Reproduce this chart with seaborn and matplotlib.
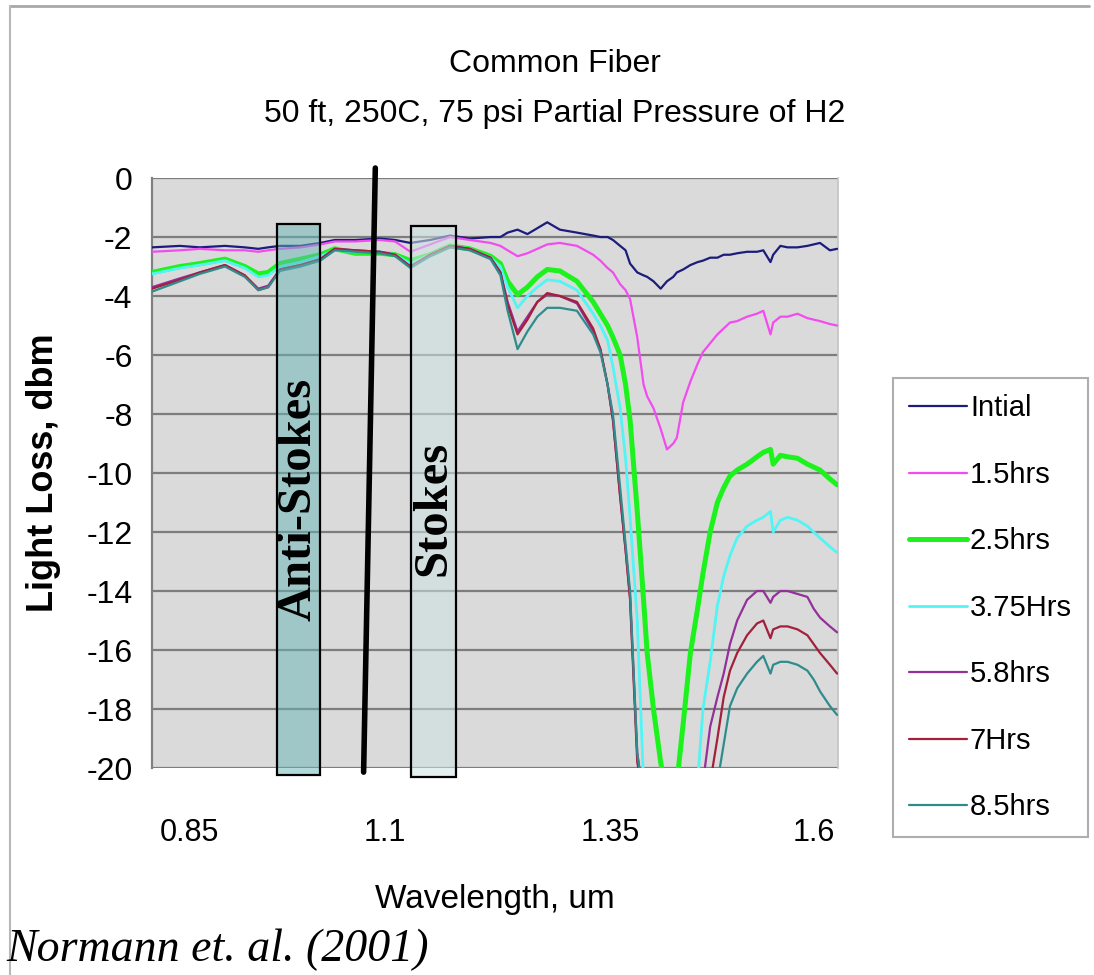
import matplotlib.pyplot as plt
import matplotlib.patches as mpatches
import matplotlib.lines as mlines
import seaborn as sns
import pandas as pd

# wavelength grid (um)
wavelength = [0.841, 0.872, 0.894, 0.922, 0.944, 0.959, 0.970, 0.983, 1.006, 1.028,
              1.044, 1.067, 1.094, 1.111, 1.128, 1.150, 1.172, 1.194, 1.217, 1.228,
              1.236, 1.247, 1.258, 1.269, 1.280, 1.294, 1.313, 1.331, 1.339, 1.347,
              1.353, 1.361, 1.367, 1.372, 1.380, 1.387, 1.391, 1.398, 1.406, 1.413,
              1.420, 1.424, 1.431, 1.439, 1.447, 1.453, 1.461, 1.469, 1.476, 1.483,
              1.491, 1.502, 1.513, 1.520, 1.528, 1.531, 1.539, 1.547, 1.558, 1.569,
              1.576, 1.583, 1.594, 1.602]

initial = [-2.35, -2.3, -2.35, -2.3, -2.35, -2.4, -2.35, -2.3, -2.3, -2.2,
           -2.1, -2.1, -2.05, -2.1, -2.2, -2.1, -1.95, -2.05, -2.0, -2.0,
           -1.85, -1.75, -1.9, -1.7, -1.5, -1.75, -1.85, -1.95, -2.0, -2.0,
           -2.1, -2.3, -2.45, -2.9, -3.2, -3.3, -3.35, -3.5, -3.75, -3.5,
           -3.35, -3.2, -3.1, -2.95, -2.85, -2.8, -2.7, -2.7, -2.6, -2.6,
           -2.55, -2.5, -2.5, -2.45, -2.85, -2.6, -2.3, -2.35, -2.35, -2.3,
           -2.25, -2.2, -2.45, -2.4]

hrs_1_5 = [-2.5, -2.45, -2.4, -2.45, -2.45, -2.5, -2.45, -2.4, -2.35, -2.25,
           -2.15, -2.15, -2.1, -2.15, -2.5, -2.25, -2.0, -2.1, -2.2, -2.3,
           -2.45, -2.65, -2.55, -2.4, -2.25, -2.2, -2.3, -2.6, -2.8, -3.05,
           -3.2, -3.6, -3.8, -4.1, -5.4, -7.0, -7.4, -7.8, -8.5, -9.2,
           -9.0, -8.8, -7.6, -6.9, -6.3, -5.9, -5.6, -5.3, -5.1, -4.9,
           -4.85, -4.7, -4.6, -4.5, -5.3, -4.9, -4.7, -4.7, -4.6, -4.75,
           -4.8, -4.85, -4.95, -5.0]

hrs_2_5 = [-3.2, -3.0, -2.9, -2.75, -3.0, -3.25, -3.2, -2.9, -2.75, -2.6,
           -2.4, -2.55, -2.55, -2.6, -2.8, -2.6, -2.3, -2.4, -2.65, -2.9,
           -3.5, -3.95, -3.7, -3.35, -3.1, -3.15, -3.5, -4.2, -4.6, -5.0,
           -5.4, -6.0, -7.0, -8.2, -11.3, -14.3, -16.1, -18.0, -19.8, -21.0,
           -21.0, -20.5, -18.5, -16.1, -14.6, -13.4, -12.0, -11.0, -10.5, -10.1,
           -9.9, -9.7, -9.45, -9.3, -9.2, -9.7, -9.4, -9.45, -9.5, -9.7,
           -9.8, -9.9, -10.2, -10.4]

hrs_3_75 = [-3.25, -3.05, -2.95, -2.8, -3.05, -3.35, -3.3, -3.0, -2.85, -2.65,
            -2.45, -2.5, -2.5, -2.6, -2.9, -2.6, -2.3, -2.4, -2.7, -3.0,
            -3.7, -4.4, -4.0, -3.7, -3.45, -3.5, -3.8, -4.6, -5.0, -5.5,
            -6.4, -7.8, -9.5, -11.5, -15.0, -20.5, -21.0, -21.0, -21.0, -21.0,
            -21.0, -21.0, -21.0, -21.0, -20.5, -18.0, -16.4, -14.5, -13.5, -12.8,
            -12.2, -11.8, -11.6, -11.5, -11.3, -12.0, -11.6, -11.5, -11.6, -11.8,
            -12.0, -12.2, -12.5, -12.7]

hrs_5_8 = [-3.7, -3.4, -3.2, -2.95, -3.3, -3.75, -3.65, -3.1, -2.95, -2.75,
           -2.4, -2.45, -2.5, -2.6, -3.0, -2.6, -2.3, -2.4, -2.7, -3.2,
           -4.2, -5.2, -4.7, -4.2, -3.95, -4.0, -4.25, -5.2, -5.8, -7.0,
           -8.2, -10.8, -12.6, -14.2, -19.5, -21.0, -21.0, -21.0, -21.0, -21.0,
           -21.0, -21.0, -21.0, -21.0, -21.0, -20.5, -18.6, -17.6, -16.8, -15.8,
           -15.0, -14.3, -14.0, -14.0, -14.4, -14.2, -14.0, -14.0, -14.1, -14.2,
           -14.6, -14.9, -15.2, -15.4]

hrs_7 = [-3.75, -3.45, -3.2, -2.95, -3.3, -3.8, -3.7, -3.1, -2.95, -2.75,
         -2.4, -2.45, -2.5, -2.6, -3.0, -2.6, -2.3, -2.4, -2.7, -3.2,
         -4.3, -5.3, -4.8, -4.2, -3.9, -4.0, -4.2, -5.1, -5.8, -7.0,
         -8.2, -10.8, -12.6, -14.3, -19.8, -21.0, -21.0, -21.0, -21.0, -21.0,
         -21.0, -21.0, -21.0, -21.0, -21.0, -21.0, -20.5, -19.0, -17.6, -16.7,
         -16.1, -15.5, -15.1, -15.0, -15.6, -15.3, -15.2, -15.2, -15.3, -15.5,
         -15.8, -16.1, -16.5, -16.8]

hrs_8_5 = [-3.85, -3.5, -3.25, -3.0, -3.35, -3.8, -3.7, -3.15, -3.0, -2.8,
           -2.45, -2.5, -2.55, -2.65, -3.05, -2.65, -2.35, -2.45, -2.75, -3.3,
           -4.5, -5.8, -5.2, -4.7, -4.4, -4.4, -4.5, -5.3, -5.9, -7.0,
           -8.0, -10.5, -12.4, -14.0, -19.5, -21.0, -21.0, -21.0, -21.0, -21.0,
           -21.0, -21.0, -21.0, -21.0, -21.0, -21.0, -21.0, -20.5, -19.2, -17.9,
           -17.3, -16.8, -16.4, -16.2, -16.8, -16.5, -16.4, -16.4, -16.5, -16.7,
           -17.0, -17.4, -17.9, -18.2]

series_names = ["Intial", "1.5hrs", "2.5hrs", "3.75Hrs", "5.8hrs", "7Hrs", "8.5hrs"]
series_values = [initial, hrs_1_5, hrs_2_5, hrs_3_75, hrs_5_8, hrs_7, hrs_8_5]
series_colors = ["#1c1c7c", "#f24cf0", "#1cf21c", "#52f4f4", "#93309a", "#a3203c", "#2e8c8c"]
series_widths = [1.6, 1.6, 3.6, 2.0, 1.6, 1.6, 1.6]

x_ticks = [0.85, 1.1, 1.35, 1.6]
y_ticks = list(range(0, -21, -2))

rows = []
for name, vals in zip(series_names, series_values):
    for w, v in zip(wavelength, vals):
        rows.append({"wavelength": w, "loss": v, "series": name})
df = pd.DataFrame(rows)

sns.set_theme(style="white")
sans = ["Liberation Sans", "DejaVu Sans"]
serif = ["Liberation Serif", "DejaVu Serif"]
plt.rcParams["font.family"] = sans
for key in ["text.color", "axes.labelcolor", "xtick.color", "ytick.color"]:
    plt.rcParams[key] = "black"

fig = plt.figure(figsize=(10.94, 9.75), dpi=100)
ax = fig.add_axes([0.139, 0.2123, 0.627, 0.6051])
ax.set_facecolor("#dadada")

sns.lineplot(data=df, x="wavelength", y="loss", hue="series",
             hue_order=series_names, palette=series_colors,
             size="series", size_order=series_names, sizes=series_widths,
             sort=False, legend=False, ax=ax, zorder=3)

ax.set_xlim(0.841, 1.603)
ax.set_ylim(-20, 0)
ax.set_yticks(y_ticks)
ax.set_yticklabels([str(t) for t in y_ticks], fontsize=23)
ax.set_xticks(x_ticks)
ax.set_xticklabels([str(t) for t in x_ticks], fontsize=22)
xl = ax.get_xticklabels()
xl[0].set_horizontalalignment("left")
xl[-1].set_horizontalalignment("right")
ax.tick_params(axis="x", length=0, pad=36)
ax.tick_params(axis="y", length=5, width=1.2, color="#7a7a7a", pad=9, direction="out")
ax.yaxis.grid(True, color="#7d7d7d", lw=1.6, zorder=1)
ax.xaxis.grid(False)
for s in ["top", "bottom"]:
    ax.spines[s].set_visible(False)
ax.spines["left"].set_color("#808080")
ax.spines["left"].set_linewidth(1.6)
ax.spines["right"].set_color("#c4c4c4")
ax.spines["right"].set_linewidth(1.2)
ax.set_axisbelow(True)

ax.set_xlabel("Wavelength, um", fontsize=24, labelpad=26)
ax.set_ylabel("Light Loss, dbm", fontsize=26, fontweight="bold", labelpad=18)

# annotation boxes (semi-transparent, curves show through) and the divider line
ax.add_patch(mpatches.Rectangle((0.980, -20.24), 0.048, 18.68,
                                facecolor=(0.40, 0.71, 0.71, 0.5),
                                edgecolor="black", lw=1.6, zorder=4, clip_on=False))
ax.add_patch(mpatches.Rectangle((1.129, -20.3), 0.050, 18.67,
                                facecolor=(0.81, 0.89, 0.89, 0.55),
                                edgecolor="black", lw=1.6, zorder=4, clip_on=False))
ax.add_line(mlines.Line2D([1.089, 1.076], [0.34, -20.14], color="black", lw=4,
                          zorder=5, clip_on=False))
ax.text(1.004, -10.9, "Anti-Stokes", rotation=90, ha="center", va="center",
        fontsize=35, fontweight="bold", family=serif, zorder=6)
ax.text(1.154, -11.2, "Stokes", rotation=90, ha="center", va="center",
        fontsize=35, fontweight="bold", family=serif, zorder=6)

fig.text(0.507, 0.934, "Common Fiber", ha="center", va="center", fontsize=23)
fig.text(0.507, 0.883, "50 ft, 250C, 75 psi Partial Pressure of H2", ha="center",
         va="center", fontsize=23)
fig.text(0.006, 0.026, "Normann et. al. (2001)", ha="left", va="center", fontsize=33,
         style="italic", family=serif)

handles = [mlines.Line2D([], [], color=c, lw=lw) for c, lw in zip(series_colors, series_widths)]
leg = fig.legend(handles, series_names, loc="upper left", bbox_to_anchor=(0.816, 0.612),
                 fontsize=21, frameon=True, fancybox=False, edgecolor="#9a9a9a",
                 handlelength=2.0, handletextpad=0.1, labelspacing=1.32,
                 borderpad=0.55, borderaxespad=0)
leg.get_frame().set_linewidth(1.5)

# outer chart frame
fig.add_artist(mlines.Line2D([0.009, 0.995], [0.994, 0.994], color="#a8a8a8", lw=2,
                             transform=fig.transFigure))
fig.add_artist(mlines.Line2D([0.009, 0.009], [0.0, 0.994], color="#b8b8b8", lw=1.5,
                             transform=fig.transFigure))

fig.savefig("out.png", dpi=100)
